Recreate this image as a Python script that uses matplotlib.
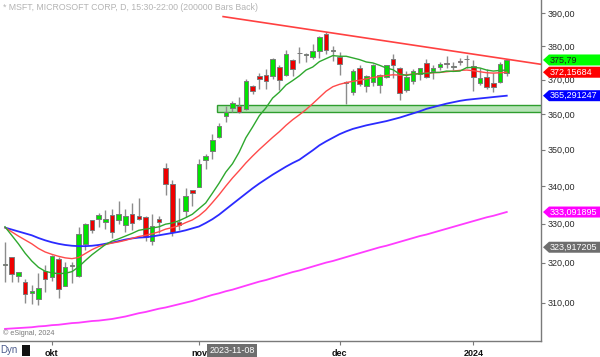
import matplotlib
matplotlib.use("Agg")
import matplotlib.pyplot as plt
from matplotlib.patches import Polygon, Rectangle

plt.rcParams['font.family'] = ['Liberation Sans', 'DejaVu Sans']

# ---------------- data (daily bars, 2023-09-21 .. 2024-01-09) ----------------
opens = [319.26, 321.32, 316.59, 315.13, 312.30, 310.99, 317.75, 316.28, 320.83, 314.03,
         319.09, 316.55, 324.75, 330.96, 331.21, 330.57, 332.38, 331.05, 329.62, 332.49,
         332.16, 331.72, 325.47, 331.30, 345.02, 340.54, 330.43, 333.41, 338.85, 339.79,
         347.24, 349.63, 353.45, 359.40, 361.68, 362.30, 361.49, 368.22, 371.01, 371.28,
         370.96, 373.61, 371.22, 375.67, 378.00, 377.33, 376.78, 378.35, 383.76, 378.49,
         376.76, 369.10, 366.45, 373.54, 368.23, 369.20, 368.48, 370.85, 376.02, 373.31,
         366.85, 369.45, 371.49, 375.00, 372.56, 373.68, 375.00, 373.69, 375.37, 376.00,
         373.86, 369.01, 370.67, 368.97, 369.30, 372.01]
highs = [325.35, 321.45, 317.67, 315.88, 314.30, 317.30, 319.47, 321.89, 321.39, 320.04,
         320.08, 329.19, 330.15, 331.10, 332.82, 333.63, 333.83, 336.06, 333.80, 335.59,
         336.88, 331.92, 332.45, 331.99, 346.20, 341.63, 336.72, 339.45, 339.00, 347.42,
         348.83, 354.39, 357.54, 362.46, 363.87, 364.79, 370.10, 368.47, 371.95, 373.13,
         376.35, 374.37, 378.87, 376.22, 379.79, 377.97, 380.64, 383.00, 384.30, 380.09,
         378.16, 369.52, 373.08, 374.18, 371.45, 374.46, 371.60, 374.42, 377.64, 373.76,
         372.40, 373.00, 373.26, 376.03, 374.41, 375.18, 376.94, 375.06, 376.46, 377.16,
         375.90, 373.26, 373.10, 372.06, 375.20, 375.99]
lows = [315.00, 315.15, 315.00, 310.02, 309.69, 309.45, 312.57, 315.42, 311.21, 314.00,
        314.93, 316.30, 323.18, 327.67, 329.14, 328.72, 326.36, 329.90, 327.80, 328.30,
        330.91, 325.45, 324.39, 327.60, 337.62, 326.94, 328.40, 331.83, 334.69, 339.65,
        344.77, 347.33, 353.35, 357.63, 360.55, 360.36, 361.07, 365.90, 367.35, 367.11,
        370.18, 367.00, 371.00, 371.12, 374.97, 375.14, 376.20, 376.28, 377.44, 375.47,
        371.31, 362.90, 365.62, 368.03, 366.32, 368.23, 366.10, 370.46, 370.33, 364.13,
        366.28, 368.68, 369.84, 370.53, 370.04, 372.71, 373.50, 372.81, 374.16, 373.48,
        366.77, 368.51, 367.17, 366.50, 369.01, 371.19]
closes = [319.53, 317.01, 317.54, 312.14, 312.79, 313.64, 315.75, 321.80, 313.39, 318.96,
          319.36, 327.26, 329.82, 328.39, 332.42, 331.16, 327.73, 332.64, 332.06, 330.11,
          331.32, 326.67, 329.32, 330.53, 340.67, 327.89, 329.81, 337.31, 338.11, 346.07,
          348.32, 352.80, 356.53, 360.53, 363.20, 360.69, 369.67, 366.68, 370.27, 369.67,
          376.17, 369.85, 377.44, 373.07, 377.85, 377.43, 378.61, 382.70, 378.85, 378.91,
          374.51, 369.14, 372.52, 368.80, 370.95, 374.23, 371.30, 374.38, 374.37, 365.93,
          370.73, 372.65, 373.26, 370.62, 373.54, 374.58, 374.66, 374.07, 375.28, 376.04,
          370.87, 370.60, 367.94, 367.75, 374.69, 375.79]

ma_green = [329.2, 327.0, 324.8, 322.4, 320.4, 318.8, 317.8, 317.4, 317.2, 317.3,
            317.7, 318.9, 320.5, 322.0, 323.3, 324.6, 325.5, 326.1, 326.8, 327.5,
            328.3, 328.6, 328.9, 329.2, 329.9, 330.2, 330.8, 331.6, 332.5, 334.0,
            335.5, 338.1, 340.8, 343.8, 346.1, 349.3, 353.3, 356.3, 359.5, 361.8,
            364.6, 366.3, 368.4, 369.7, 371.1, 372.8, 373.7, 375.3, 376.2, 377.1,
            376.9, 376.9, 376.4, 375.9, 375.2, 374.9, 374.2, 373.4, 372.9, 371.6,
            371.2, 371.6, 371.7, 371.8, 372.1, 372.1, 372.5, 372.4, 372.5, 373.5,
            373.6, 373.4, 372.8, 372.5, 372.7, 372.8]
ma_red = [329.0, 327.9, 326.8, 325.8, 324.8, 323.6, 322.7, 322.1, 321.6, 321.2,
          321.0, 321.3, 322.3, 323.3, 324.1, 324.6, 325.0, 325.3, 325.7, 326.2,
          326.7, 327.0, 327.4, 327.9, 328.6, 329.0, 329.5, 330.3, 331.0, 332.1,
          333.6, 335.6, 337.7, 340.0, 342.2, 344.2, 346.3, 348.2, 350.0, 351.7,
          353.4, 355.0, 356.8, 358.4, 359.8, 361.3, 363.0, 364.8, 366.6, 367.9,
          368.6, 369.1, 369.5, 369.8, 370.2, 370.6, 370.9, 371.2, 371.4, 371.3,
          371.4, 371.6, 371.8, 371.9, 372.0, 372.1, 372.3, 372.5, 372.7, 372.8,
          372.6, 372.3, 372.0, 371.9, 372.0, 372.16]
ma_blue = [329.0, 328.5, 328.0, 327.5, 327.0, 326.3, 325.7, 325.2, 324.8, 324.5,
           324.3, 324.2, 324.2, 324.3, 324.5, 324.8, 325.1, 325.5, 325.9, 326.2,
           326.4, 326.5, 326.7, 327.0, 327.3, 327.6, 327.9, 328.3, 328.8, 329.3,
           330.2, 331.2, 332.4, 333.8, 335.2, 336.6, 338.0, 339.4, 340.7, 341.9,
           343.1, 344.2, 345.3, 346.3, 347.2, 348.5, 349.8, 351.2, 352.3, 353.3,
           354.3, 355.1, 355.8, 356.3, 356.8, 357.2, 357.6, 358.0, 358.5, 359.0,
           359.6, 360.2, 360.8, 361.5, 362.0, 362.5, 363.0, 363.4, 363.8, 364.1,
           364.3, 364.5, 364.7, 364.9, 365.1, 365.29]
ma_magenta = [303.6, 303.7, 303.8, 303.9, 304.0, 304.2, 304.3, 304.5, 304.6, 304.8,
              305.0, 305.1, 305.3, 305.5, 305.6, 305.8, 306.0, 306.3, 306.6, 307.0,
              307.4, 307.7, 308.1, 308.5, 308.8, 309.2, 309.6, 310.0, 310.4, 310.9,
              311.4, 311.9, 312.3, 312.8, 313.2, 313.7, 314.2, 314.7, 315.2, 315.6,
              316.1, 316.6, 317.1, 317.6, 318.0, 318.5, 319.0, 319.5, 320.0, 320.4,
              320.9, 321.4, 321.9, 322.4, 322.9, 323.4, 323.9, 324.3, 324.8, 325.3,
              325.8, 326.3, 326.8, 327.2, 327.7, 328.2, 328.7, 329.2, 329.7, 330.2,
              330.7, 331.2, 331.7, 332.1, 332.6, 333.1]

month_ticks = [7, 29, 50, 70]
month_labels = ["okt", "nov", "dec", "2024"]
price_ticks = [310, 320, 330, 340, 350, 360, 370, 380, 390]

trend_x = [32.6, 80.12]
trend_y = [388.95, 374.5]
zone_low, zone_high, zone_start = 360.6, 362.6, 31.7

tags = [(375.79, "375,79", "#00ff00", "#202020"),
        (372.15684, "372,15684", "#ff0000", "white"),
        (365.291247, "365,291247", "#0000ff", "white"),
        (333.091895, "333,091895", "#ff00ff", "white"),
        (323.917205, "323,917205", "#6e6e6e", "white")]

# ---------------- figure ----------------
W, H = 600, 357
fig = plt.figure(figsize=(W / 100, H / 100), dpi=100)
ax = fig.add_axes([0, 16 / H, 541 / W, 341 / H])
ax.set_yscale('log')
ax.set_ylim(300.7, 394.1)
ax.set_xlim(-0.75, 80.12)

# support zone
ax.add_patch(Rectangle((zone_start, zone_low), 90, zone_high - zone_low,
                       facecolor="#b6e3b6", edgecolor="#2e9e2e", lw=1.0, zorder=1))

# candles
bw = 0.68
for i in range(len(closes)):
    o, h, l, c = opens[i], highs[i], lows[i], closes[i]
    ax.plot([i, i], [l, h], color="#8c8c8c", lw=1.0, zorder=2, solid_capstyle='butt')
    up = c >= o
    fc = "#00e400" if up else "#ee0000"
    lo, hi = min(o, c), max(o, c)
    ax.add_patch(Rectangle((i - bw / 2, lo), bw, max(hi - lo, 0.05),
                           facecolor=fc, edgecolor="#7a7a7a", lw=0.7, zorder=3))

xs = list(range(len(closes)))
ax.plot(xs, ma_magenta, color="#ff3cff", lw=1.3, zorder=4)
ax.plot(xs, ma_blue, color="#2b2bff", lw=1.3, zorder=4)
ax.plot(xs, ma_red, color="#ff4a4a", lw=1.0, zorder=4)
ax.plot(xs, ma_green, color="#2ea82e", lw=1.0, zorder=4)
ax.plot(trend_x, trend_y, color="#ff4040", lw=1.2, zorder=5)

# axes styling
for s in ["top", "left"]:
    ax.spines[s].set_visible(False)
for s in ["right", "bottom"]:
    ax.spines[s].set_color("#7a7a7a")
    ax.spines[s].set_linewidth(1.0)
ax.yaxis.tick_right()
ax.set_yticks(price_ticks)
ax.set_yticklabels([f"{p},00" for p in price_ticks])
ax.yaxis.set_minor_locator(matplotlib.ticker.NullLocator())
ax.tick_params(axis='y', direction='out', length=3, width=0.8, color="#7a7a7a",
               labelsize=6.5, labelcolor="#2a2a2a", pad=1.5)
ax.set_xticks(month_ticks)
ax.set_xticklabels(month_labels, fontweight='bold')
ax.tick_params(axis='x', direction='out', length=3, width=0.8, color="#7a7a7a",
               labelsize=6.5, labelcolor="#111111", pad=2.5)

# value tags on the right
fig.canvas.draw()
for val, txt, fc, tc in tags:
    yd = ax.transData.transform((0, val))[1]
    hh = 5.5
    pts = [(543, yd), (549, yd + hh), (600, yd + hh), (600, yd - hh), (549, yd - hh)]
    pts = [(px / W, py / H) for px, py in pts]
    fig.patches.append(Polygon(pts, closed=True, facecolor=fc, edgecolor="none",
                               transform=fig.transFigure, figure=fig, zorder=10))
    fig.text(549.5 / W, yd / H, txt, color=tc, fontsize=6.5, va='center', ha='left',
             zorder=11)

# texts
fig.text(3 / W, 1 - 7 / H, "* MSFT, MICROSOFT CORP, D, 15:30-22:00 (200000 Bars Back)",
         fontsize=6.3, color="#b4b4b4", va='center', ha='left')
fig.text(3 / W, 1 - 333 / H, "\u00a9 eSignal, 2024", fontsize=5.2, color="#7a7a7a",
         va='center', ha='left')
fig.text(0 / W, 1 - 350 / H, "Dyn", fontsize=7, color="#4b5a8c", va='center', ha='left')
fig.patches.append(Rectangle((22 / W, 1 - 356 / H), 8 / W, 11 / H, facecolor="#111111",
                             edgecolor="none", transform=fig.transFigure, figure=fig))
fig.patches.append(Rectangle((207 / W, 0), 50 / W, 13 / H, facecolor="#6e6e6e",
                             edgecolor="none", transform=fig.transFigure, figure=fig,
                             zorder=10))
fig.text(232 / W, 1 - 350.5 / H, "2023-11-08", fontsize=6.5, color="white",
         va='center', ha='center', zorder=11)

fig.savefig("out.png", dpi=100)
